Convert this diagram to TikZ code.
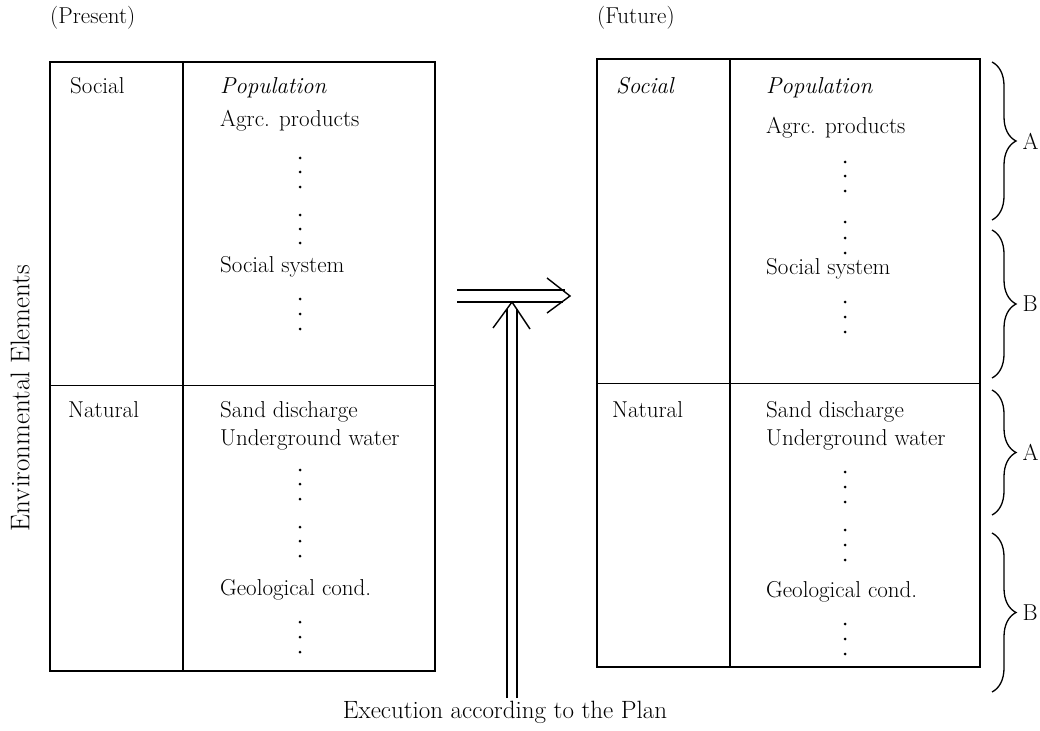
\documentclass[tikz,border=0pt]{standalone}
\usetikzlibrary{decorations.pathreplacing}
\begin{document}
\begin{tikzpicture}[x=1pt,y=-1pt,
  txt/.style={font=\fontsize{23}{27}\selectfont, anchor=base west, inner sep=0pt},
  itxt/.style={txt, font=\fontsize{23}{27}\selectfont\itshape},
  frame/.style={line width=1.3pt},
  divline/.style={line width=1.8pt},
  hline/.style={line width=0.9pt},
  arr/.style={line width=1.4pt},
  brc/.style={line width=1.3pt, decorate, decoration={brace, amplitude=24pt}},
  lbl/.style={midway, right=30pt, inner sep=0pt, font=\fontsize{23}{27}\selectfont},
  dot/.style={fill=black}]
\fill[white] (0,0) rectangle (1040,730);
\useasboundingbox (0,0) rectangle (1040,730);

% ---------- left table (Present) ----------
\node[txt] (present) at (50,24) {(Present)};
\draw[frame] (50,62) rectangle (435,671);
\draw[divline] (183,62) -- (183,671);
\draw[hline] (50,385) -- (435,385);
\node[txt] (lsocial) at (70,94) {Social};
\node[itxt] (lpop) at (220,94) {Population};
\node[txt] (lagrc) at (220,127) {Agrc. products};
\node[txt] (lsocsys) at (220,272) {Social system};
\node[txt] (lnat) at (68,417) {Natural};
\node[txt] (lsand) at (220,417) {Sand discharge};
\node[txt] (lunder) at (220,445) {Underground water};
\node[txt] (lgeo) at (220,595) {Geological cond.};
\foreach \yy in {158,172,187,215,229,243,299,314,329,470,484,499,527,541,556,622,637,652}
  \fill[dot] (300,\yy) circle (1.5);

% ---------- right table (Future) ----------
\node[txt] (future) at (597,24) {(Future)};
\draw[frame] (597,59) rectangle (980,667);
\draw[divline] (730,59) -- (730,667);
\draw[hline] (597,383) -- (980,383);
\node[itxt] (rsocial) at (616,94) {Social};
\node[itxt] (rpop) at (766,94) {Population};
\node[txt] (ragrc) at (766,134) {Agrc. products};
\node[txt] (rsocsys) at (766,274) {Social system};
\node[txt] (rnat) at (612,417) {Natural};
\node[txt] (rsand) at (766,417) {Sand discharge};
\node[txt] (runder) at (766,445) {Underground water};
\node[txt] (rgeo) at (766,597) {Geological cond.};
\foreach \yy in {162,176,191,222,238,253,302,317,332,472,487,502,530,545,560,624,639,654}
  \fill[dot] (845,\yy) circle (1.5);

% ---------- braces ----------
\draw[brc] (992,62) -- (992,220) node[lbl] (a1) {A};
\draw[brc] (992,230) -- (992,378) node[lbl] (b1) {B};
\draw[brc] (992,390) -- (992,515) node[lbl] (a2) {A};
\draw[brc] (992,533) -- (992,692) node[lbl] (b2) {B};

% ---------- side label ----------
\node[font=\fontsize{27}{31}\selectfont, rotate=90, inner sep=0pt] (env) at (20,398) {Environmental Elements};

% ---------- arrows ----------
\coordinate (hsu) at (457,290);
\coordinate (hsl) at (457,302);
\coordinate (htip) at (570,296);
\coordinate (heu) at (565,290);
\coordinate (hel) at (563,302);
\draw[arr] (hsu) -- (heu);
\draw[arr] (hsl) -- (hel);
\draw[arr] (547,278) -- (htip) -- (547,313);

\node[font=\fontsize{25}{29}\selectfont, inner sep=0pt] (exec) at (505,712) {Execution according to the Plan};
\coordinate (vtip) at (512,302);
\coordinate (vbl) at (507,698);
\coordinate (vbr) at (517,698);
\draw[arr] (vbl) -- (507,309);
\draw[arr] (vbr) -- (517,309);
\draw[arr] (493,328) -- (vtip) -- (530,329);
\end{tikzpicture}
\end{document}
